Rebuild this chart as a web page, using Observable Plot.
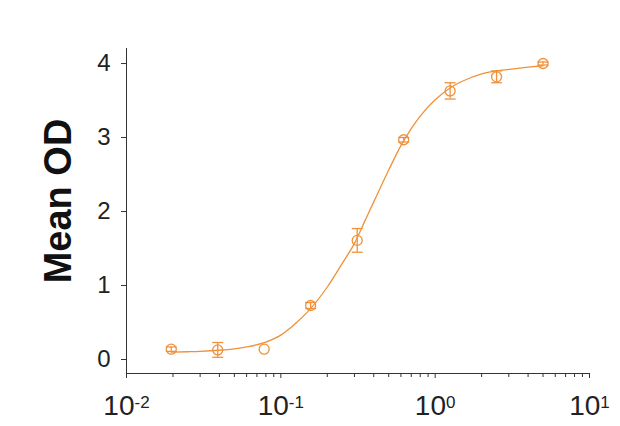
<!DOCTYPE html>
<html>
<head>
<meta charset="utf-8">
<script src="https://cdn.jsdelivr.net/npm/d3@7"></script>
<script src="https://cdn.jsdelivr.net/npm/@observablehq/plot@0.6"></script>
<style>
  html, body { margin: 0; padding: 0; background: #fff; }
  #chart svg { display: block; font-family: "Liberation Sans", Arial, sans-serif; }
</style>
</head>
<body>
<div id="chart"></div>
<script>
// Measured points (concentration, mean OD, error)
const conc = [0.0195, 0.039, 0.078, 0.156, 0.3125, 0.625, 1.25, 2.5, 5];
const meanOD = [0.14, 0.13, 0.14, 0.73, 1.61, 2.97, 3.63, 3.82, 4.00];
const errOD = [0.03, 0.10, 0, 0.04, 0.16, 0.03, 0.11, 0.08, 0.02];

// Fitted curve
const curveX = [0.0195, 0.025, 0.03, 0.04, 0.05, 0.06, 0.08, 0.1, 0.125, 0.15, 0.2, 0.25, 0.3, 0.35, 0.4, 0.5, 0.6, 0.7, 0.8, 1.0, 1.25, 1.5, 2, 2.5, 3, 4, 5];
const curveY = [0.10, 0.105, 0.11, 0.125, 0.145, 0.17, 0.235, 0.33, 0.49, 0.65, 0.98, 1.30, 1.57, 1.87, 2.13, 2.56, 2.89, 3.12, 3.29, 3.51, 3.67, 3.76, 3.86, 3.90, 3.92, 3.95, 3.97];

// Axis ticks
const yTicks = [0, 1, 2, 3, 4];
const xMajor = [0.01, 0.1, 1, 10];
const xExponents = ["-2", "-1", "0", "1"];

const orange = "#f0913a";

const pts = conc.map((x, i) => ({x, y: meanOD[i], lo: meanOD[i] - errOD[i], hi: meanOD[i] + errOD[i], e: errOD[i]}));
const errPts = pts.filter(d => d.e > 0);
const curve = curveX.map((x, i) => ({x, y: curveY[i]}));
const xMinor = [];
for (const d of [0.01, 0.1, 1]) for (let k = 2; k <= 9; k++) xMinor.push(d * k);

const capSymbol = {
  draw(context, size) {
    const w = 5.5;
    context.moveTo(-w, 0);
    context.lineTo(w, 0);
  }
};

const chart = Plot.plot({
  width: 620,
  height: 426,
  marginLeft: 126,
  marginRight: 31,
  marginTop: 48,
  marginBottom: 53,
  x: {type: "log", domain: [0.01, 10]},
  y: {domain: [-0.189, 4.203]},
  style: {fontFamily: "'Liberation Sans', Arial, sans-serif", color: "#222"},
  marks: [
    Plot.ruleX([0.01], {stroke: "#333", strokeWidth: 1}),
    Plot.ruleY([-0.189], {stroke: "#333", strokeWidth: 1}),
    Plot.axisY({ticks: yTicks, tickSize: 5, tickPadding: 11, fontSize: 24, label: null, stroke: "#333", tickFormat: d3.format("d")}),
    Plot.axisX({ticks: xMinor, tickSize: 4, tickFormat: () => "", label: null, stroke: "#333"}),
    Plot.axisX({ticks: xMajor, tickSize: 5, tickPadding: 17, fontSize: 28, label: null, stroke: "#333",
      tickFormat: (d) => "10^" + xExponents[xMajor.indexOf(d)]}),
    Plot.text(["Mean OD"], {frameAnchor: "left", textAnchor: "middle", rotate: -90, dx: -68, dy: -10, fontSize: 38, fontWeight: "bold", fill: "#111"}),
    Plot.line(curve, {x: "x", y: "y", stroke: orange, strokeWidth: 1.3, curve: "monotone-x"}),
    Plot.ruleX(errPts, {x: "x", y1: "lo", y2: "hi", stroke: orange, strokeWidth: 1.3}),
    Plot.dot(errPts, {x: "x", y: "lo", symbol: capSymbol, stroke: orange, strokeWidth: 1.3, r: 5}),
    Plot.dot(errPts, {x: "x", y: "hi", symbol: capSymbol, stroke: orange, strokeWidth: 1.3, r: 5}),
    Plot.dot(pts, {x: "x", y: "y", r: 5, stroke: orange, fill: "none", strokeWidth: 1.3})
  ]
});

// Render exponents as superscripts
chart.querySelectorAll("text").forEach(t => {
  const s = t.textContent;
  if (/^10\^/.test(s)) {
    const exp = s.slice(3);
    t.textContent = "10";
    const ts = document.createElementNS("http://www.w3.org/2000/svg", "tspan");
    ts.setAttribute("font-size", "17");
    ts.setAttribute("dy", "-0.42em");
    ts.textContent = exp;
    t.appendChild(ts);
  }
});

document.getElementById("chart").appendChild(chart);
</script>
</body>
</html>
